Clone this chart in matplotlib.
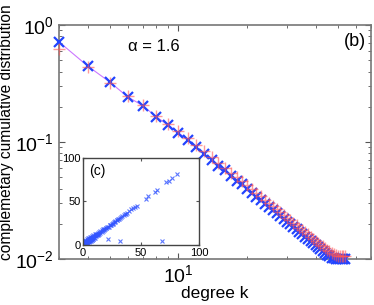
import numpy as np
import matplotlib
matplotlib.use('Agg')
import matplotlib.pyplot as plt

plt.rcParams['font.family'] = ['Liberation Sans', 'DejaVu Sans']
plt.rcParams['mathtext.fontset'] = 'custom'
plt.rcParams['mathtext.rm'] = 'Liberation Sans'
plt.rcParams['mathtext.it'] = 'Liberation Sans:italic'

# degree k and complementary cumulative distributions
degree = list(range(3, 55))
ccdf_blue = [0.716, 0.447, 0.326, 0.243, 0.204, 0.164, 0.140, 0.120, 0.104, 0.0905,
             0.0790, 0.0707, 0.0628, 0.0571, 0.0512, 0.0468, 0.0433, 0.0395, 0.0369, 0.0340,
             0.0320, 0.0296, 0.0280, 0.0260, 0.0247, 0.0231, 0.0220, 0.0207, 0.0198, 0.0186,
             0.0179, 0.0169, 0.0163, 0.0155, 0.0149, 0.0142, 0.0137, 0.0131, 0.0127, 0.0121,
             0.0117, 0.0113, 0.0109, 0.0105, 0.0102, 0.0101, 0.0100, 0.0100, 0.0100, 0.0100,
             0.0100, 0.0100]
ccdf_red = [0.620, 0.440, 0.322, 0.245, 0.206, 0.168, 0.143, 0.124, 0.108, 0.0945,
            0.0830, 0.0745, 0.0665, 0.0605, 0.0545, 0.0500, 0.0462, 0.0425, 0.0396, 0.0367,
            0.0345, 0.0320, 0.0302, 0.0283, 0.0267, 0.0251, 0.0238, 0.0225, 0.0214, 0.0203,
            0.0194, 0.0184, 0.0177, 0.0169, 0.0162, 0.0155, 0.0149, 0.0143, 0.0138, 0.0132,
            0.0128, 0.0124, 0.0120, 0.0116, 0.0113, 0.0110, 0.0108, 0.0107, 0.0106, 0.0106,
            0.0105, 0.0105]

# inset (c) scatter
inset_x = [1, 1, 1, 2, 2, 2, 2, 3, 3, 3, 3, 4, 4, 4, 4, 5, 5, 5, 5, 6, 6, 6, 6,
           7, 7, 7, 8, 8, 8, 9, 9, 9, 10, 10, 10, 11, 11, 12, 12, 13, 13, 14, 14,
           15, 15, 16, 16, 17, 17, 18, 18, 19, 19.5, 20, 21, 21.5, 22, 23, 23.5, 24, 25, 25.5,
           26, 27, 27.5, 28, 29, 29.5, 30, 31, 32, 33, 34, 35, 36, 37, 38, 39.5, 41, 43,
           45, 46.5, 54, 56, 62, 64, 71.5, 74, 77, 81,
           0.5, 1.5, 2.5, 3.5, 4.5, 5.5, 7.5, 8.5, 9.5, 11.5, 12.5,
           21.5, 32, 68]
inset_y = [1, 3, 5, 1, 2, 4, 6, 2, 3, 5, 7, 2, 4, 5, 8, 3, 5, 6, 8, 4, 6, 7, 9,
           5, 7, 9, 6, 8, 10, 7, 9, 11, 8, 10, 12, 10, 12, 11, 13, 12, 14, 13, 15,
           14, 16, 15, 17, 16, 18, 17, 18.5, 18.5, 19, 19.5, 20.5, 21, 21, 22.5, 22.5, 23, 24.5, 24.5,
           25, 26.5, 26.5, 27, 28.5, 28.5, 30, 30, 31, 32, 33, 34, 35, 36, 37, 38.5, 41, 42,
           44, 45, 53, 56, 61, 63, 72, 74, 77, 81.5,
           2, 3, 4, 2, 6, 4, 6, 7, 8, 11, 11.5,
           7, 4.6, 4.6]

fig = plt.figure(figsize=(3.74, 3.05), dpi=100)
ax = fig.add_axes([0.158, 0.151, 0.834, 0.767])

ax.plot(degree, ccdf_blue, '-', color='#cc77ff', lw=0.8, zorder=2)
ax.plot(degree, ccdf_blue, 'x', color='#2244ff', ms=7, mew=1.6, zorder=3, clip_on=False)
ax.plot(degree, ccdf_red, '+', color='#ff5555', ms=8, mew=1.0, alpha=0.6, zorder=4, clip_on=False)

ax.set_xscale('log')
ax.set_yscale('log')
ax.set_xlim(3, 70)
ax.set_ylim(0.01, 1)
ax.set_xticks([10])
ax.set_yticks([0.01, 0.1, 1])
ax.tick_params(which='both', direction='in', top=True, right=True, color='#555555')
ax.tick_params(which='major', length=4, labelsize=14, pad=4)
ax.tick_params(which='minor', length=2.5)
ax.tick_params(axis='x', which='minor', labelbottom=False)
for s in ax.spines.values():
    s.set_color('#777777')
    s.set_linewidth(1.2)

ax.set_xlabel('degree k', fontsize=12.5, labelpad=0)
ax.set_ylabel('complemetary cumulative distribution', fontsize=11.2)
ax.yaxis.set_label_coords(-0.144, 0.54)
ax.text(0.22, 0.91, 'α = 1.6', transform=ax.transAxes, fontsize=12, va='center')
ax.text(0.985, 0.93, '(b)', transform=ax.transAxes, fontsize=13, ha='right', va='center')

# inset
ins = fig.add_axes([0.222, 0.197, 0.310, 0.285])
ins.plot(inset_x, inset_y, 'x', color='#3355ff', ms=3, mew=0.8, alpha=0.8)
ins.set_xlim(0, 100)
ins.set_ylim(0, 100)
ins.set_xticks([0, 50, 100])
ins.set_yticks([0, 50, 100])
ins.tick_params(direction='in', labelsize=8, length=2, top=True, right=True, color='#555555')
ins.tick_params(axis='x', pad=2)
ins.tick_params(axis='y', pad=1.5)
for s in ins.spines.values():
    s.set_color('#444444')
    s.set_linewidth(1.0)
ins.text(0.05, 0.93, '(c)', transform=ins.transAxes, fontsize=10, va='top')

fig.savefig('out.png', dpi=100)
